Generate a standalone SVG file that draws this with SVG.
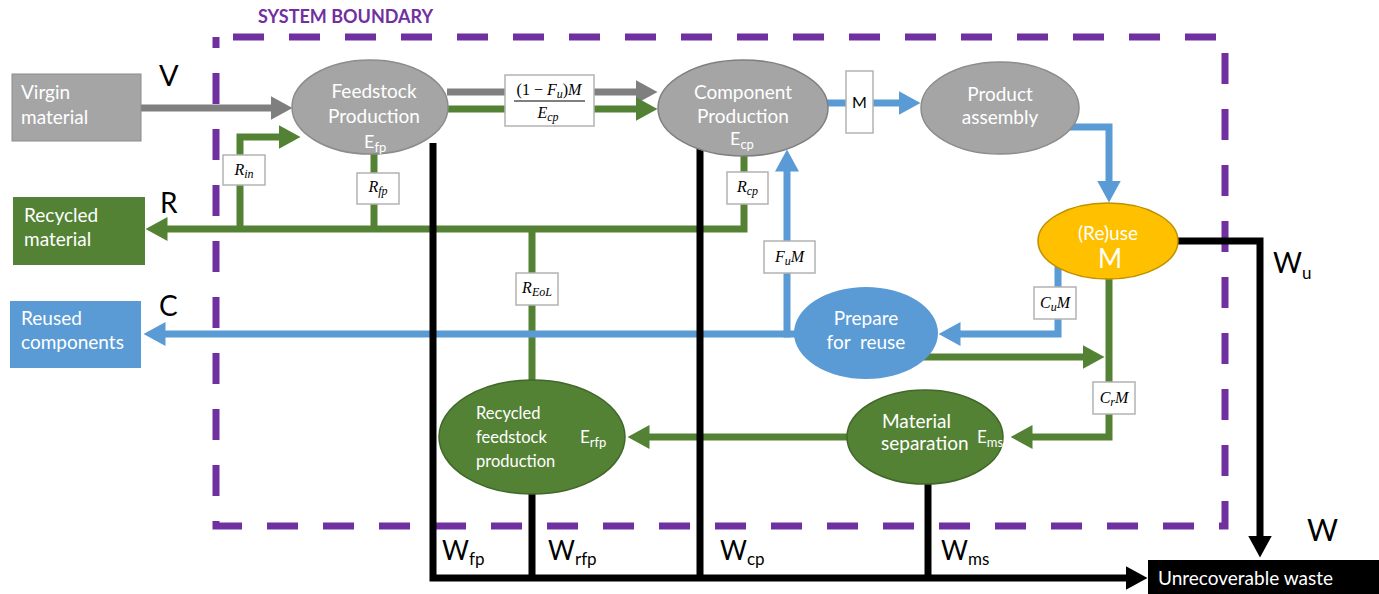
<svg xmlns="http://www.w3.org/2000/svg" width="1379" height="594" viewBox="0 0 1379 594">
<style>
.sans{font-family:Lato,"Liberation Sans","DejaVu Sans",sans-serif}
.wt{fill:#ffffff}
.big{fill:#000000}
.math{font-family:"Liberation Serif","DejaVu Serif",serif;font-style:italic;fill:#000}
.mbox{fill:#ffffff;stroke:#b3b3b3;stroke-width:1.5}
.c{fill:none;stroke-width:7;stroke-linejoin:miter}
.gy{stroke:#7f7f7f}
.gn{stroke:#548235}
.bl{stroke:#5b9bd5}
.bk{stroke:#000000}
</style>
<defs>
<marker id="aGy" viewBox="0 0 22 24" refX="0.5" refY="12" markerWidth="22" markerHeight="24" markerUnits="userSpaceOnUse" orient="auto"><path d="M0,0 L22,12 L0,24 z" fill="#7f7f7f"/></marker>
<marker id="aGn" viewBox="0 0 22 24" refX="0.5" refY="12" markerWidth="22" markerHeight="24" markerUnits="userSpaceOnUse" orient="auto"><path d="M0,0 L22,12 L0,24 z" fill="#548235"/></marker>
<marker id="aBl" viewBox="0 0 22 24" refX="0.5" refY="12" markerWidth="22" markerHeight="24" markerUnits="userSpaceOnUse" orient="auto"><path d="M0,0 L22,12 L0,24 z" fill="#5b9bd5"/></marker>
<marker id="aBk" viewBox="0 0 22 24" refX="0.5" refY="12" markerWidth="22" markerHeight="24" markerUnits="userSpaceOnUse" orient="auto"><path d="M0,0 L22,12 L0,24 z" fill="#000000"/></marker>
</defs>
<rect width="1379" height="594" fill="#ffffff"/>

<g id="boundary">
<rect x="216" y="37" width="1009" height="489" fill="none" stroke="#7030a0" stroke-width="7" stroke-dasharray="31 25" stroke-dashoffset="39"/>
<text x="258" y="23" class="sans" font-weight="bold" font-size="18" fill="#7030a0">SYSTEM BOUNDARY</text>
</g>

<g id="connectors">
<path class="c gy" d="M141,108 H271" marker-end="url(#aGy)"/>
<path class="c gy" d="M447,92 H636" marker-end="url(#aGy)"/>
<path class="c gn" d="M445,109 H636" marker-end="url(#aGn)"/>
<path class="c gn" d="M240,229 V137 H279" marker-end="url(#aGn)"/>
<path class="c gn" d="M744,150 V229 H167" marker-end="url(#aGn)"/>
<path class="c gn" d="M374,150 V229"/>
<path class="c gn" d="M532,382 V229"/>
<path class="c gn" d="M850,437 H649" marker-end="url(#aGn)"/>
<path class="c gn" d="M1109,276 V437 H1032" marker-end="url(#aGn)"/>
<path class="c gn" d="M915,357 H1083" marker-end="url(#aGn)"/>
<path class="c bl" d="M826,103 H899" marker-end="url(#aBl)"/>
<path class="c bl" d="M1062,127 H1109 V181" marker-end="url(#aBl)"/>
<path class="c bl" d="M797,334 H165" marker-end="url(#aBl)"/>
<path class="c bl" d="M787,337.5 V171" marker-end="url(#aBl)"/>
<path class="c bl" d="M1058,265 V334 H960" marker-end="url(#aBl)"/>
<path class="c bk" d="M433,143 V578 H1126" marker-end="url(#aBk)"/>
<path class="c bk" d="M532,490 V578"/>
<path class="c bk" d="M700,148 V578"/>
<path class="c bk" d="M928,480 V578"/>
<path class="c bk" d="M1177,241 H1260 V536" marker-end="url(#aBk)"/>
</g>

<g id="flow-labels">
<text x="159" y="86" class="sans big" font-size="29">V</text>
<text x="160" y="213" class="sans big" font-size="28">R</text>
<text x="159" y="316" class="sans big" font-size="28">C</text>
<text x="1273" y="273" class="sans big" font-size="28">W<tspan font-size="17" dy="6">u</tspan></text>
<text x="1307" y="541" class="sans big" font-size="30">W</text>
<text x="442" y="560" class="sans big" font-size="26">W<tspan font-size="17" dy="5">fp</tspan></text>
<text x="548" y="560" class="sans big" font-size="26">W<tspan font-size="17" dy="5">rfp</tspan></text>
<text x="720" y="560" class="sans big" font-size="26">W<tspan font-size="17" dy="5">cp</tspan></text>
<text x="941" y="560" class="sans big" font-size="26">W<tspan font-size="17" dy="5">ms</tspan></text>
</g>

<g id="math-boxes">
<rect class="mbox" x="505" y="75" width="89" height="51"/>
<text x="549" y="95" text-anchor="middle" class="math" font-size="16"><tspan font-style="normal">(1 − </tspan>F<tspan font-size="12" dy="3">u</tspan><tspan dy="-3" font-style="normal">)</tspan>M</text>
<line x1="514" y1="101" x2="585" y2="101" stroke="#000" stroke-width="1"/>
<text x="548" y="118" text-anchor="middle" class="math" font-size="16">E<tspan font-size="12" dy="3">cp</tspan></text>
<rect class="mbox" x="846" y="71" width="27" height="62"/>
<text x="859.5" y="108" text-anchor="middle" class="sans" font-size="16" fill="#000">M</text>
<rect class="mbox" x="223" y="155" width="42" height="30"/>
<text x="244" y="175" text-anchor="middle" class="math" font-size="16">R<tspan font-size="12" dy="3">in</tspan></text>
<rect class="mbox" x="357" y="173" width="42" height="31"/>
<text x="378" y="192" text-anchor="middle" class="math" font-size="16">R<tspan font-size="12" dy="3">fp</tspan></text>
<rect class="mbox" x="727" y="172" width="41" height="32"/>
<text x="747.5" y="192" text-anchor="middle" class="math" font-size="16">R<tspan font-size="12" dy="3">cp</tspan></text>
<rect class="mbox" x="516" y="273" width="42" height="32"/>
<text x="537" y="293" text-anchor="middle" class="math" font-size="16">R<tspan font-size="12" dy="3">EoL</tspan></text>
<rect class="mbox" x="764" y="241" width="51" height="32"/>
<text x="789.5" y="262" text-anchor="middle" class="math" font-size="16">F<tspan font-size="12" dy="3">u</tspan><tspan dy="-3">M</tspan></text>
<rect class="mbox" x="1034" y="287" width="42" height="32"/>
<text x="1055" y="308" text-anchor="middle" class="math" font-size="16">C<tspan font-size="12" dy="3">u</tspan><tspan dy="-3">M</tspan></text>
<rect class="mbox" x="1093" y="382" width="42" height="32"/>
<text x="1114" y="403" text-anchor="middle" class="math" font-size="16">C<tspan font-size="12" dy="3">r</tspan><tspan dy="-3">M</tspan></text>
</g>

<g id="virgin-material">
<rect x="12" y="74" width="129" height="67" fill="#a5a5a5" stroke="#8c8c8c" stroke-width="1"/>
<text x="21" y="99" class="sans wt" font-size="19">Virgin</text>
<text x="21" y="124" class="sans wt" font-size="19">material</text>
</g>
<g id="recycled-material">
<rect x="13" y="197" width="132" height="68" fill="#548235"/>
<text x="24" y="222" class="sans wt" font-size="19">Recycled</text>
<text x="24" y="246" class="sans wt" font-size="19">material</text>
</g>
<g id="reused-components">
<rect x="10" y="301" width="131" height="67" fill="#5b9bd5"/>
<text x="21" y="325" class="sans wt" font-size="19">Reused</text>
<text x="21" y="349" class="sans wt" font-size="19">components</text>
</g>
<g id="feedstock-production">
<ellipse cx="370" cy="107" rx="78" ry="47" fill="#a5a5a5" stroke="#8c8c8c" stroke-width="1.5"/>
<text x="374" y="98" text-anchor="middle" class="sans wt" font-size="19">Feedstock</text>
<text x="374" y="123" text-anchor="middle" class="sans wt" font-size="19">Production</text>
<text x="364" y="148" class="sans wt" font-size="18">E<tspan font-size="13" dy="4">fp</tspan></text>
</g>
<g id="component-production">
<ellipse cx="743" cy="108" rx="85" ry="48" fill="#a5a5a5" stroke="#7f7f7f" stroke-width="1.5"/>
<text x="743" y="99" text-anchor="middle" class="sans wt" font-size="19">Component</text>
<text x="743" y="123" text-anchor="middle" class="sans wt" font-size="19">Production</text>
<text x="730" y="145" class="sans wt" font-size="18">E<tspan font-size="13" dy="4">cp</tspan></text>
</g>
<g id="product-assembly">
<ellipse cx="1000" cy="108" rx="79" ry="46" fill="#a5a5a5" stroke="#8c8c8c" stroke-width="1.5"/>
<text x="1000" y="101" text-anchor="middle" class="sans wt" font-size="19">Product</text>
<text x="1000" y="124" text-anchor="middle" class="sans wt" font-size="19">assembly</text>
</g>
<g id="reuse">
<ellipse cx="1108" cy="241" rx="70" ry="38" fill="#ffc000" stroke="#bf9000" stroke-width="1.5"/>
<text x="1108" y="240" text-anchor="middle" class="sans wt" font-size="19">(Re)use</text>
<text x="1110" y="268" text-anchor="middle" class="sans wt" font-size="26">M</text>
</g>
<g id="prepare-for-reuse">
<ellipse cx="866" cy="333" rx="72" ry="46" fill="#5b9bd5"/>
<text x="866" y="325" text-anchor="middle" class="sans wt" font-size="19">Prepare</text>
<text x="866" y="349" text-anchor="middle" class="sans wt" font-size="19" xml:space="preserve">for  reuse</text>
</g>
<g id="material-separation">
<ellipse cx="925" cy="437" rx="78" ry="47" fill="#548235" stroke="#41672a" stroke-width="1.5"/>
<text x="882" y="428" class="sans wt" font-size="19">Material</text>
<text x="881" y="450" class="sans wt" font-size="19">separation</text>
<text x="977" y="443" class="sans wt" font-size="17">E<tspan font-size="13" dy="4">ms</tspan></text>
</g>
<g id="recycled-feedstock-production">
<ellipse cx="532" cy="437" rx="93" ry="57" fill="#548235" stroke="#41672a" stroke-width="1.5"/>
<text x="476" y="419" class="sans wt" font-size="16.5">Recycled</text>
<text x="476" y="443" class="sans wt" font-size="16.5">feedstock</text>
<text x="476" y="467" class="sans wt" font-size="16.5">production</text>
<text x="580" y="443" class="sans wt" font-size="17">E<tspan font-size="13" dy="4">rfp</tspan></text>
</g>
<g id="unrecoverable-waste">
<rect x="1148" y="560" width="231" height="34" fill="#000000"/>
<text x="1158" y="585" class="sans wt" font-size="19">Unrecoverable waste</text>
</g>
</svg>
